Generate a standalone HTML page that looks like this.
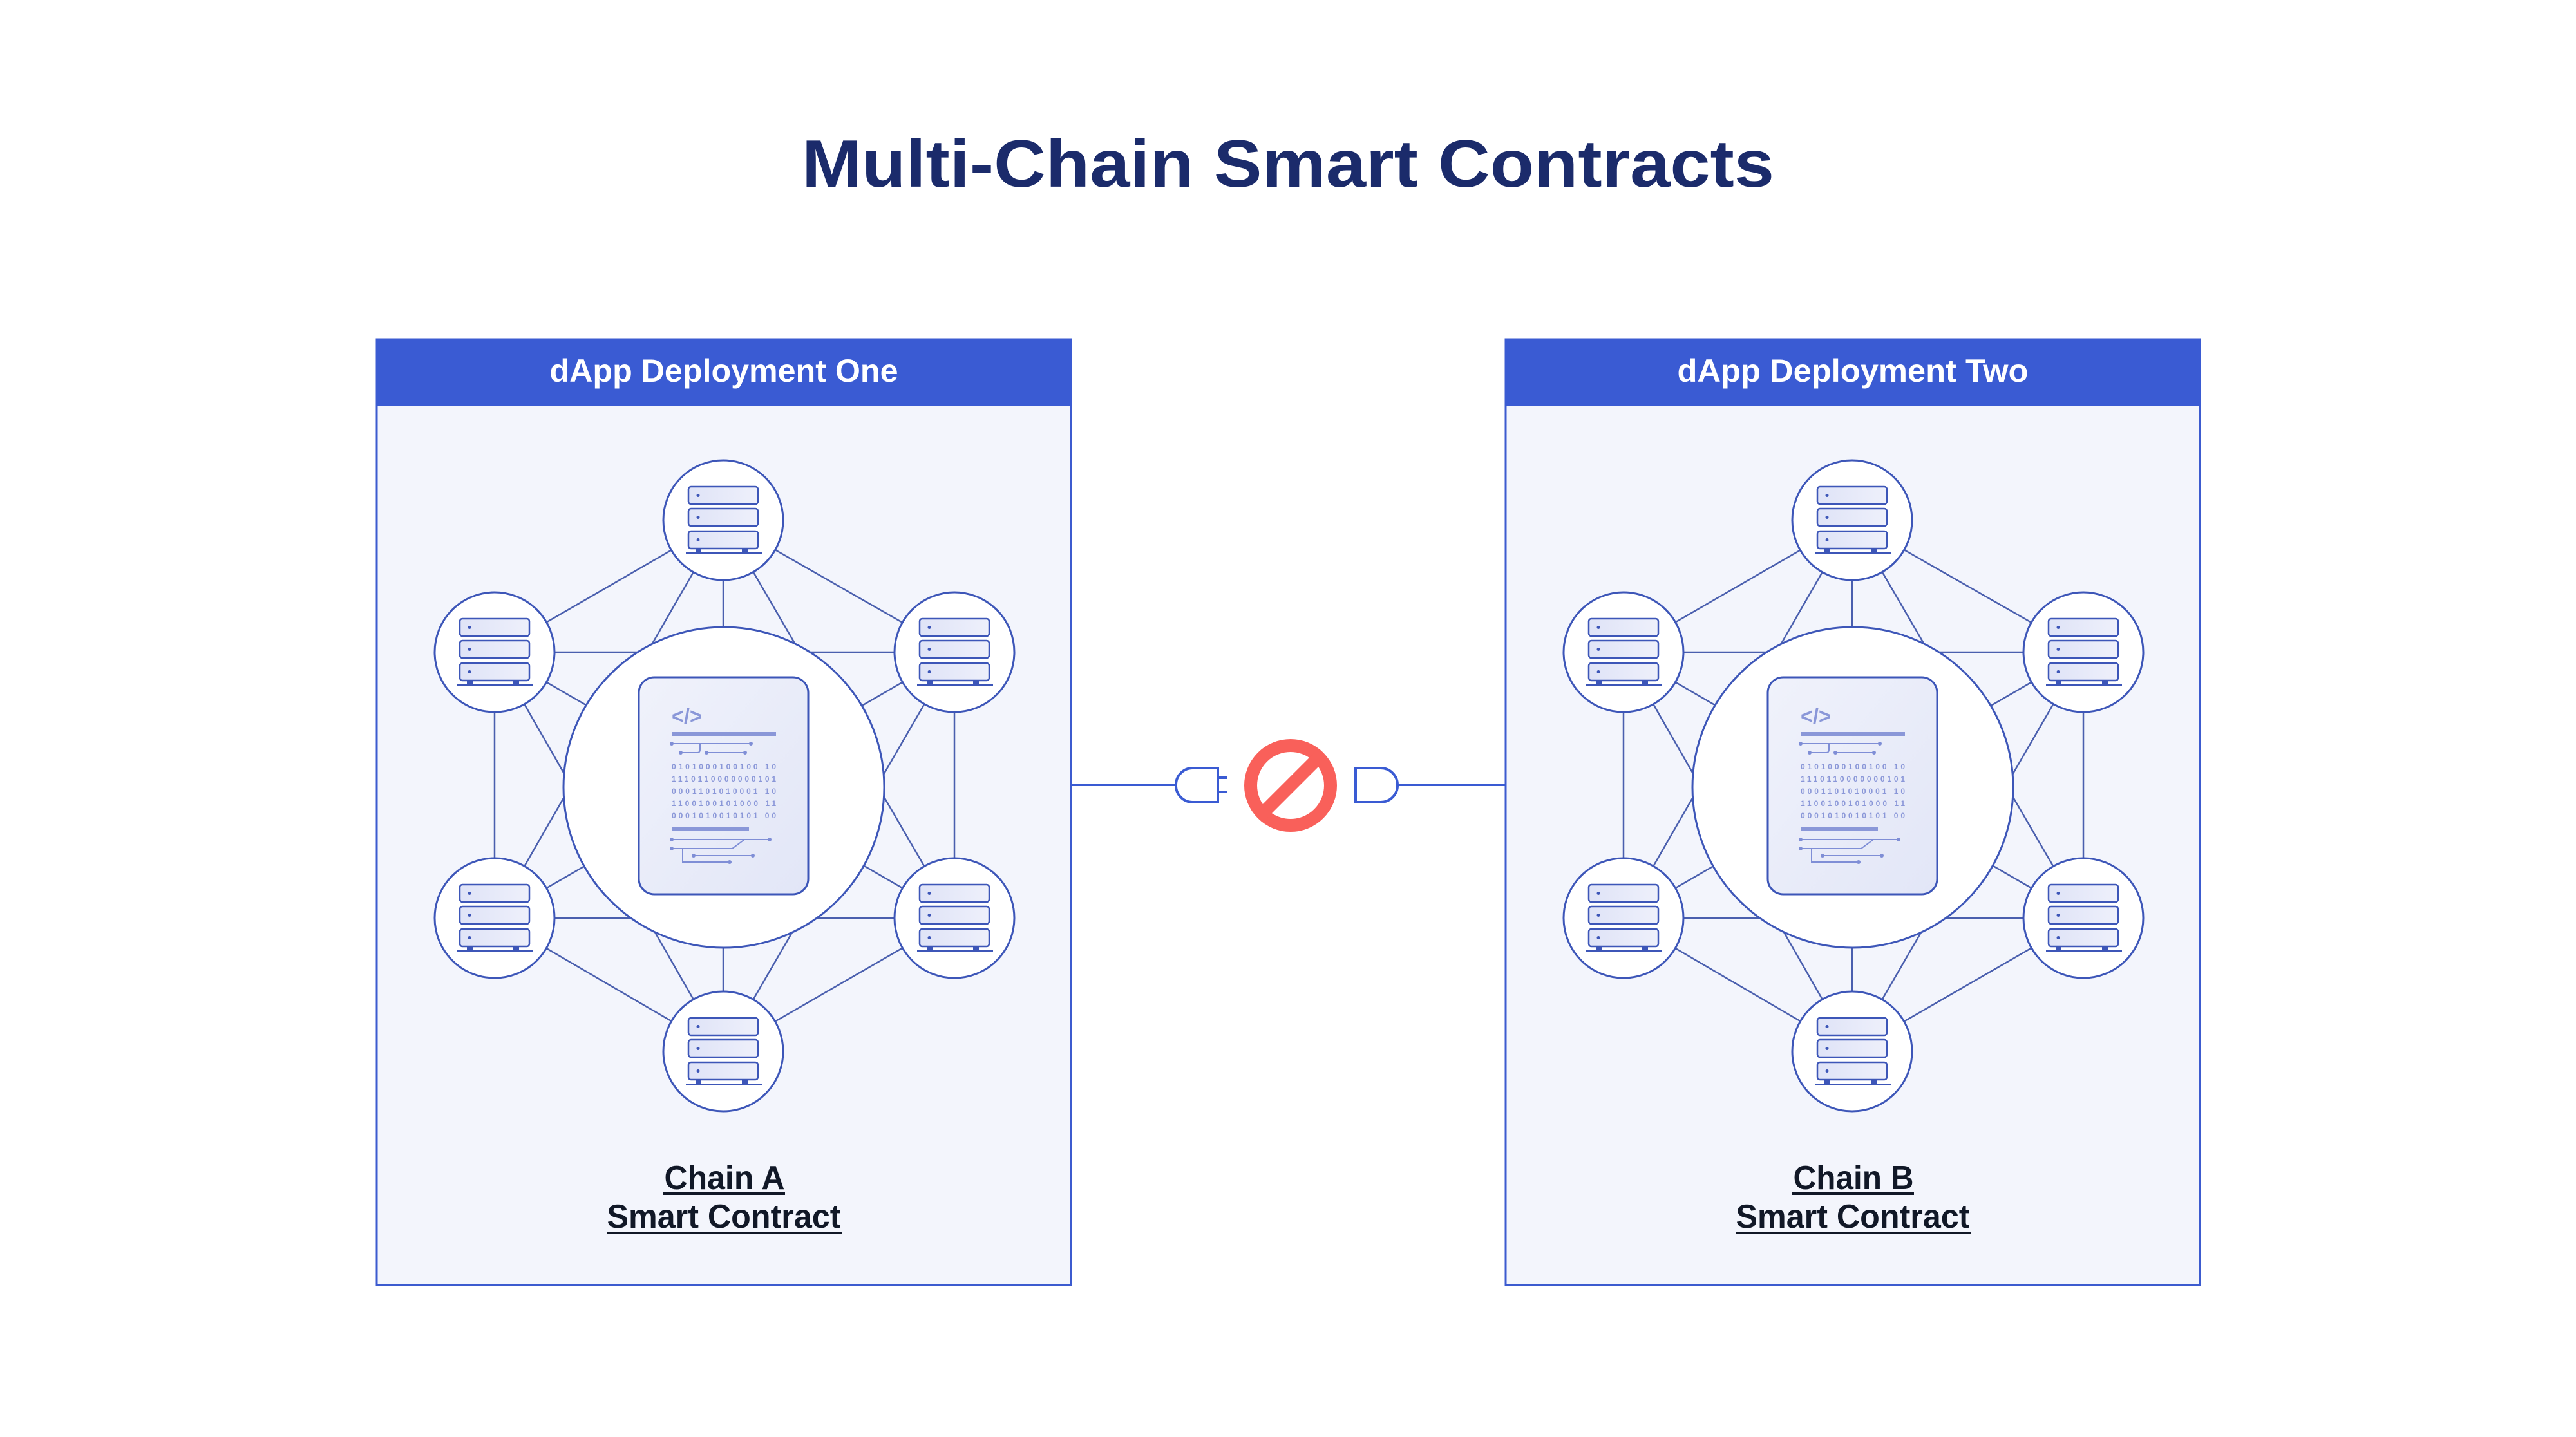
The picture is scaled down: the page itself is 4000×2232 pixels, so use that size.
<!DOCTYPE html>
<html><head><meta charset="utf-8"><style>
html,body{margin:0;padding:0;background:#fff;}
svg{display:block;}
text{font-family:"Liberation Sans",sans-serif;font-weight:bold;}
</style></head><body>
<svg width="4000" height="2232" viewBox="0 0 4000 2232" xmlns="http://www.w3.org/2000/svg">
<defs>
<linearGradient id="ug" x1="0" y1="0" x2="1" y2="0"><stop offset="0" stop-color="#dfe3f7"/><stop offset="1" stop-color="#eef0fb"/></linearGradient>
<linearGradient id="dg" x1="0" y1="0" x2="1" y2="1"><stop offset="0" stop-color="#f0f2fb"/><stop offset="1" stop-color="#e2e6f7"/></linearGradient>
<g id="srv">
<circle r="93" fill="#fff" stroke="#3d56b8" stroke-width="3"/>
<rect x="-54" y="-52" width="108" height="27" rx="4" fill="url(#ug)" stroke="#3d56b8" stroke-width="2.5"/>
<rect x="-54" y="-18" width="108" height="27" rx="4" fill="url(#ug)" stroke="#3d56b8" stroke-width="2.5"/>
<rect x="-54" y="17" width="108" height="27" rx="4" fill="url(#ug)" stroke="#3d56b8" stroke-width="2.5"/>
<circle cx="-39" cy="-38.5" r="2.5" fill="#3d56b8"/>
<circle cx="-39" cy="-4.5" r="2.5" fill="#3d56b8"/>
<circle cx="-39" cy="30.5" r="2.5" fill="#3d56b8"/>
<rect x="-43" y="44" width="9" height="6" fill="#3d56b8"/>
<rect x="29" y="44" width="9" height="6" fill="#3d56b8"/>
<line x1="-58" y1="51" x2="60" y2="51" stroke="#3d56b8" stroke-width="2"/>
</g>
<g id="net">
<g stroke="#4a5fae" stroke-width="2.5">
<line x1="1123" y1="808" x2="768" y2="1013"/><line x1="1123" y1="808" x2="1482" y2="1013"/>
<line x1="1123" y1="808" x2="768" y2="1426"/><line x1="1123" y1="808" x2="1482" y2="1426"/>
<line x1="1123" y1="808" x2="1123" y2="1633"/>
<line x1="768" y1="1013" x2="1482" y2="1013"/><line x1="768" y1="1013" x2="768" y2="1426"/>
<line x1="768" y1="1013" x2="1482" y2="1426"/><line x1="768" y1="1013" x2="1123" y2="1633"/>
<line x1="1482" y1="1013" x2="1482" y2="1426"/><line x1="1482" y1="1013" x2="768" y2="1426"/>
<line x1="1482" y1="1013" x2="1123" y2="1633"/>
<line x1="768" y1="1426" x2="1482" y2="1426"/><line x1="768" y1="1426" x2="1123" y2="1633"/>
<line x1="1482" y1="1426" x2="1123" y2="1633"/>
</g>
<circle cx="1124" cy="1223" r="249" fill="#fff" stroke="#3d56b8" stroke-width="3"/>
<rect x="992" y="1052" width="263" height="337" rx="24" fill="url(#dg)" stroke="#3d56b8" stroke-width="3"/>
<text x="1043" y="1124" font-size="34" fill="#8a97d8" font-weight="normal" textLength="47" lengthAdjust="spacingAndGlyphs">&lt;/&gt;</text>
<rect x="1043" y="1137" width="162" height="6" fill="#8a97d8"/>
<g stroke="#7f8ed6" stroke-width="2" fill="none">
<line x1="1043" y1="1155" x2="1166" y2="1155"/>
<path d="M1057 1169 H1083 Q1087 1169 1087 1164 V1155"/>
<line x1="1097" y1="1169" x2="1157" y2="1169"/>
<line x1="1043" y1="1304" x2="1195" y2="1304"/>
<path d="M1043 1318 H1137 L1156 1304"/>
<path d="M1060 1318 V1339 H1133"/>
<line x1="1077" y1="1329" x2="1169" y2="1329"/>
</g>
<g fill="#7f8ed6">
<circle cx="1043" cy="1155" r="3"/><circle cx="1166" cy="1155" r="3"/><circle cx="1057" cy="1169" r="3"/><circle cx="1097" cy="1169" r="3"/><circle cx="1157" cy="1169" r="3"/>
<circle cx="1043" cy="1304" r="3"/><circle cx="1195" cy="1304" r="3"/><circle cx="1043" cy="1318" r="3"/><circle cx="1077" cy="1329" r="3"/><circle cx="1169" cy="1329" r="3"/><circle cx="1133" cy="1339" r="3"/>
</g>
<rect x="1043" y="1285" width="120" height="6" fill="#8a97d8"/>
<g font-size="12" fill="#8a97d8" font-weight="normal">
<text x="1043" y="1195" textLength="162" lengthAdjust="spacing">0101000100100 10</text>
<text x="1043" y="1214" textLength="162" lengthAdjust="spacing">1110110000000101</text>
<text x="1043" y="1233" textLength="162" lengthAdjust="spacing">0001101010001 10</text>
<text x="1043" y="1252" textLength="162" lengthAdjust="spacing">1100100101000 11</text>
<text x="1043" y="1271" textLength="162" lengthAdjust="spacing">0001010010101 00</text>
</g>
<use href="#srv" x="1123" y="808"/><use href="#srv" x="768" y="1013"/><use href="#srv" x="1482" y="1013"/>
<use href="#srv" x="768" y="1426"/><use href="#srv" x="1482" y="1426"/><use href="#srv" x="1123" y="1633"/>
</g>
</defs>

<text x="2000" y="290" text-anchor="middle" font-size="104" fill="#1b2b6b" textLength="1510" lengthAdjust="spacingAndGlyphs">Multi-Chain Smart Contracts</text>

<rect x="585" y="527" width="1078" height="1469" fill="#f3f5fc" stroke="#3c5bcf" stroke-width="3"/>
<rect x="584" y="526" width="1080" height="104" fill="#3a5bd3"/>
<text x="1124" y="593" text-anchor="middle" font-size="50" fill="#fff" textLength="541" lengthAdjust="spacingAndGlyphs">dApp Deployment One</text>
<use href="#net"/>
<text x="1125" y="1847" text-anchor="middle" font-size="52" fill="#111827" textLength="187" lengthAdjust="spacingAndGlyphs">Chain A</text>
<rect x="1030" y="1852" width="189" height="4" fill="#111827"/>
<text x="1124" y="1907" text-anchor="middle" font-size="52" fill="#111827" textLength="363" lengthAdjust="spacingAndGlyphs">Smart Contract</text>
<rect x="942" y="1913" width="365" height="4" fill="#111827"/>

<rect x="2338" y="527" width="1078" height="1469" fill="#f3f5fc" stroke="#3c5bcf" stroke-width="3"/>
<rect x="2337" y="526" width="1080" height="104" fill="#3a5bd3"/>
<text x="2877" y="593" text-anchor="middle" font-size="50" fill="#fff" textLength="545" lengthAdjust="spacingAndGlyphs">dApp Deployment Two</text>
<use href="#net" x="1753"/>
<text x="2878" y="1847" text-anchor="middle" font-size="52" fill="#111827" textLength="187" lengthAdjust="spacingAndGlyphs">Chain B</text>
<rect x="2783" y="1852" width="189" height="4" fill="#111827"/>
<text x="2877" y="1907" text-anchor="middle" font-size="52" fill="#111827" textLength="363" lengthAdjust="spacingAndGlyphs">Smart Contract</text>
<rect x="2695" y="1913" width="365" height="4" fill="#111827"/>

<g stroke="#3a5bd3" stroke-width="4" fill="none">
<line x1="1664" y1="1219" x2="1826" y2="1219"/>
<path d="M1891 1193 H1852 A26 26 0 0 0 1826 1219 A26 26 0 0 0 1852 1246 H1891 Z"/>
<line x1="1891" y1="1208" x2="1905" y2="1208"/><line x1="1891" y1="1230" x2="1905" y2="1230"/>
<path d="M2105 1193 H2144 A26 26 0 0 1 2170 1219 A26 26 0 0 1 2144 1246 H2105 Z"/>
<line x1="2170" y1="1219" x2="2337" y2="1219"/>
</g>
<circle cx="2004" cy="1220" r="62" fill="none" stroke="#f9605a" stroke-width="20"/>
<line x1="2048" y1="1176" x2="1960" y2="1264" stroke="#f9605a" stroke-width="20"/>
</svg>
</body></html>
